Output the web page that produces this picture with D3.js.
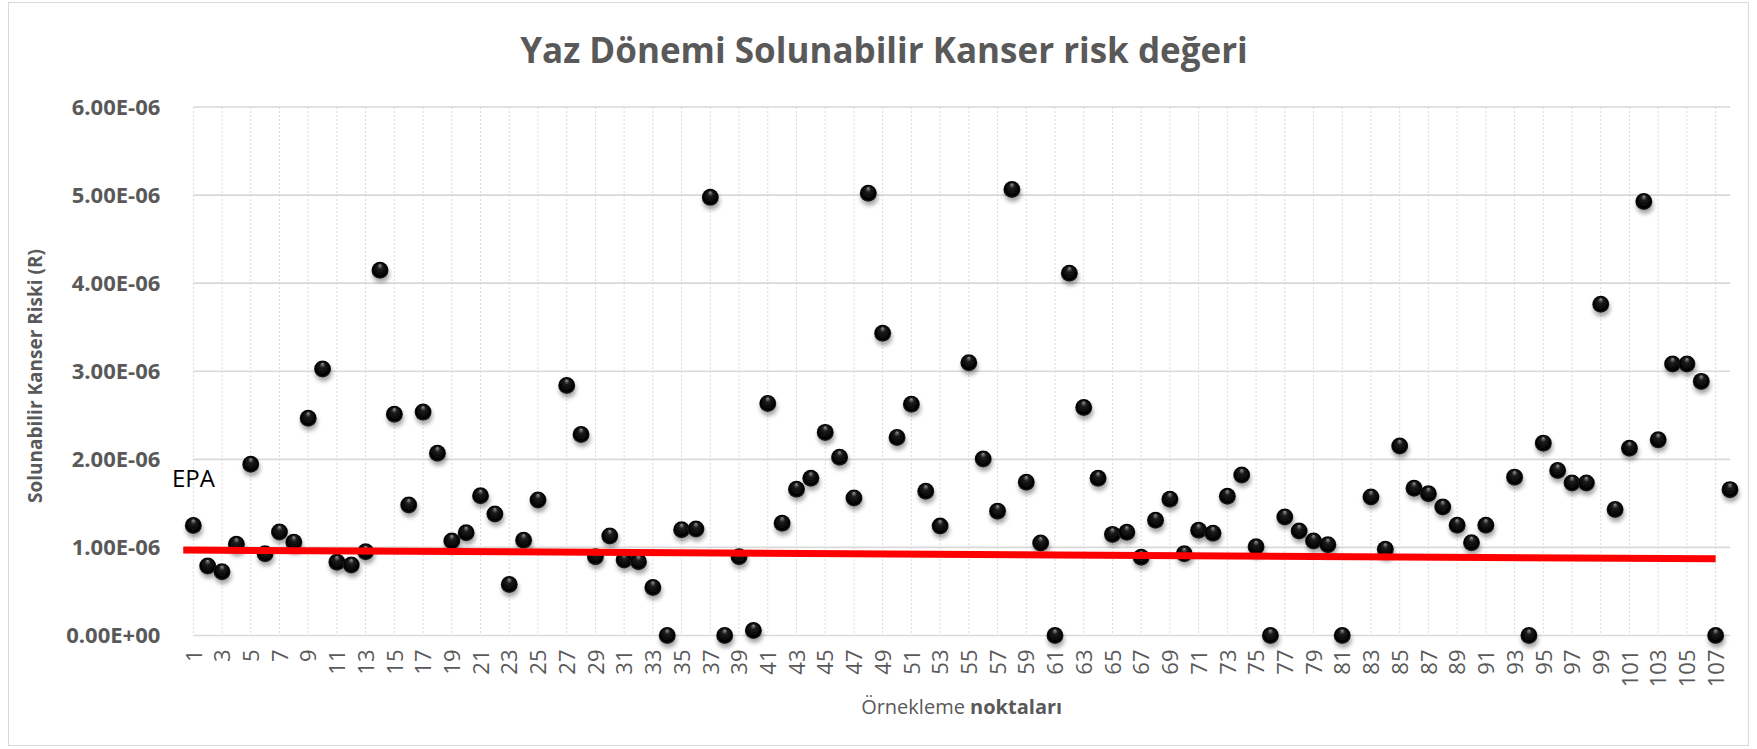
<!DOCTYPE html>
<html>
<head>
<meta charset="utf-8">
<script src="https://cdn.jsdelivr.net/npm/d3@7"></script>
<style>
  body { margin: 0; background: #fff; }
  svg { display: block; }
  text { font-family: "Open Sans", "Liberation Sans", sans-serif; }
</style>
</head>
<body>
<svg id="chart" width="1757" height="749"></svg>
<script>
var title = 'Yaz Dönemi Solunabilir Kanser risk değeri';
var yTitle = 'Solunabilir Kanser Riski (R)';

// sampling points 1..108
var categories = d3.range(1, 109);

// inhalation cancer risk per point (x1e-6), null = no marker drawn
var riskValues = [
  1.25, 0.79, 0.725, 1.035, 1.944, 0.927, 1.176, 1.059, 2.466, 3.026,
  0.833, 0.80, 0.95, 4.146, 2.513, 1.482, 2.536, 2.07, 1.073, 1.167,
  1.586, 1.379, 0.579, 1.082, 1.539, null, 2.838, 2.282, 0.894, 1.129,
  0.856, 0.838, 0.546, 0, 1.2, 1.209, 4.974, 0, 0.894, 0.056,
  2.635, 1.275, 1.661, 1.784, 2.306, 2.024, 1.562, 5.021, 3.431, 2.249,
  2.626, 1.638, 1.242, null, 3.096, 2.005, 1.412, 5.064, 1.741, 1.049,
  0, 4.113, 2.588, 1.784, 1.148, 1.172, 0.889, 1.308, 1.548, 0.927,
  1.195, 1.162, 1.581, 1.821, 1.007, 0, 1.346, 1.186, 1.073, 1.031,
  0, null, 1.572, 0.979, 2.151, 1.671, 1.609, 1.459, 1.252, 1.054,
  1.252, null, 1.798, 0, 2.184, 1.873, 1.732, 1.732, 3.76, 1.431,
  2.127, 4.927, 2.221, 3.082, 3.082, 2.885, 0, 1.656
];

// EPA reference line, start/end in category units
var epaLine = [
  { cat: 0.3, value: 0.971 },
  { cat: 107, value: 0.871 }
];
var epaLabel = 'EPA';

var yTicks = [0, 1, 2, 3, 4, 5, 6];
var yTickLabels = ['0.00E+00', '1.00E-06', '2.00E-06', '3.00E-06', '4.00E-06', '5.00E-06', '6.00E-06'];
var xTickValues = categories.filter(function(d) { return d % 2 === 1; });

var svg = d3.select('#chart');
var plotLeft = 193.3, plotRight = 1730, plotTop = 107, plotBottom = 635.5;

var x = d3.scaleLinear().domain([1, 108]).range([plotLeft, plotRight]);
var y = d3.scaleLinear().domain([0, 6]).range([plotBottom, plotTop]);

var defs = svg.append('defs');
var grad = defs.append('radialGradient')
  .attr('id', 'ball')
  .attr('cx', '50%').attr('cy', '50%').attr('r', '50%')
  .attr('fx', '50%').attr('fy', '18%');
grad.append('stop').attr('offset', '0').attr('stop-color', '#9a9a9a');
grad.append('stop').attr('offset', '0.32').attr('stop-color', '#1c1c1c');
grad.append('stop').attr('offset', '0.85').attr('stop-color', '#000');
grad.append('stop').attr('offset', '1').attr('stop-color', '#2a2a2a');

var shadow = defs.append('filter')
  .attr('id', 'shadow')
  .attr('x', '-50%').attr('y', '-50%').attr('width', '200%').attr('height', '200%');
shadow.append('feDropShadow')
  .attr('dx', 1).attr('dy', 4).attr('stdDeviation', 2.2)
  .attr('flood-color', '#000').attr('flood-opacity', 0.35);

// outer frame
svg.append('rect')
  .attr('x', 8.5).attr('y', 2.5)
  .attr('width', 1740).attr('height', 743)
  .attr('fill', '#fff')
  .attr('stroke', '#d9d9d9');

svg.append('text')
  .attr('x', 884).attr('y', 63)
  .attr('text-anchor', 'middle')
  .attr('font-size', 35)
  .attr('font-weight', 'bold')
  .attr('fill', '#595959')
  .text(title);

var grid = svg.append('g').attr('class', 'grid');
grid.selectAll('line.v')
  .data(xTickValues)
  .enter().append('line')
  .attr('class', 'v')
  .attr('x1', function(d) { return x(d); })
  .attr('x2', function(d) { return x(d); })
  .attr('y1', plotTop).attr('y2', plotBottom)
  .attr('stroke', '#d9d9d9')
  .attr('stroke-width', 1)
  .attr('stroke-dasharray', '2,2');

grid.selectAll('line.h')
  .data(yTicks)
  .enter().append('line')
  .attr('class', 'h')
  .attr('x1', plotLeft).attr('x2', plotRight)
  .attr('y1', function(d) { return y(d); })
  .attr('y2', function(d) { return y(d); })
  .attr('stroke', '#d9d9d9')
  .attr('stroke-width', 1.6);

var yAxis = svg.append('g')
  .attr('transform', 'translate(' + plotLeft + ',0)')
  .call(d3.axisLeft(y)
    .tickValues(yTicks)
    .tickSize(0)
    .tickPadding(33)
    .tickFormat(function(d, i) { return yTickLabels[i]; }));
yAxis.select('.domain').remove();
yAxis.selectAll('text')
  .attr('font-size', 22)
  .attr('font-weight', 'bold')
  .attr('fill', '#595959');

var xAxis = svg.append('g')
  .attr('transform', 'translate(0,' + plotBottom + ')')
  .call(d3.axisBottom(x).tickValues(xTickValues).tickSize(0).tickFormat(d3.format('d')));
xAxis.select('.domain').remove();
xAxis.selectAll('text')
  .attr('transform', 'rotate(-90)')
  .attr('x', -14)
  .attr('y', 0)
  .attr('dy', '0.35em')
  .attr('text-anchor', 'end')
  .attr('font-size', 22)
  .attr('fill', '#595959');

svg.append('text')
  .attr('transform', 'translate(35,376) rotate(-90)')
  .attr('text-anchor', 'middle')
  .attr('dy', '0.35em')
  .attr('font-size', 19)
  .attr('font-weight', 'bold')
  .attr('fill', '#595959')
  .text(yTitle);

var xTitle = svg.append('text')
  .attr('x', (plotLeft + plotRight) / 2).attr('y', 714)
  .attr('text-anchor', 'middle')
  .attr('font-size', 20)
  .attr('fill', '#595959');
xTitle.append('tspan').text('Örnekleme ');
xTitle.append('tspan').attr('font-weight', 'bold').text('noktaları');

var points = categories.map(function(c, i) { return { cat: c, value: riskValues[i] }; })
  .filter(function(d) { return d.value !== null; });

svg.append('g').attr('class', 'points')
  .selectAll('circle')
  .data(points)
  .enter().append('circle')
  .attr('cx', function(d) { return x(d.cat); })
  .attr('cy', function(d) { return y(d.value); })
  .attr('r', 8.5)
  .attr('fill', 'url(#ball)')
  .attr('filter', 'url(#shadow)');

svg.append('path')
  .datum(epaLine)
  .attr('d', d3.line()
    .x(function(d) { return x(d.cat); })
    .y(function(d) { return y(d.value); }))
  .attr('fill', 'none')
  .attr('stroke', '#ff0000')
  .attr('stroke-width', 7);

svg.append('text')
  .attr('x', 172).attr('y', 487)
  .attr('font-size', 24)
  .attr('fill', '#000')
  .text(epaLabel);
</script>
</body>
</html>
